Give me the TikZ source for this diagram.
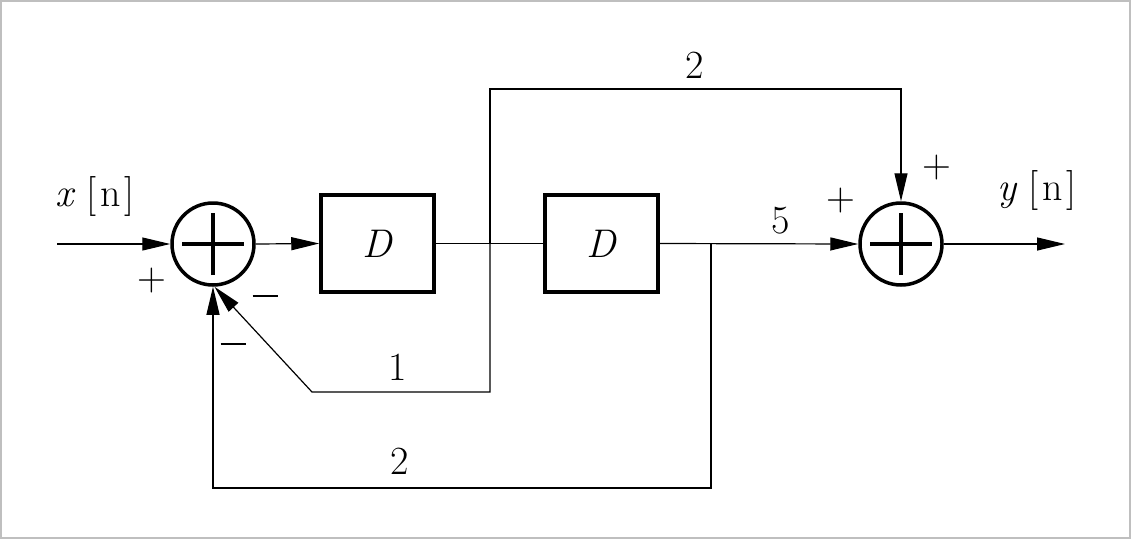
\documentclass[tikz,border=0pt]{standalone}
\usepackage{fontspec}
\usetikzlibrary{arrows.meta}
\newcommand{\mns}{\rule{25pt}{1.6pt}}
\newcommand{\sig}[1]{\textit{#1}\hspace{11pt}[\hspace{4pt}n\hspace{4pt}]}
\begin{document}
\begin{tikzpicture}[x=1pt,y=-1pt,
  every node/.style={font=\fontsize{40}{48}\selectfont},
  sumnode/.style={circle,draw,line width=3.5pt,minimum size=82pt,inner sep=0pt},
  delaybox/.style={draw,line width=3.5pt,minimum width=113pt,minimum height=97pt,inner sep=0pt},
  wire/.style={line width=1.2pt},
  arr/.style={wire,-{Triangle[length=28pt,width=13pt]}},
  lbl/.style={inner sep=0pt}]
\useasboundingbox (0,0) rectangle (1131,539);
\draw[color=black!25,line width=2pt] (1,1) rectangle (1130,538);
% nodes
\node[sumnode] (s1) at (213,244) {};
\node[sumnode] (s2) at (901,244) {};
\node[delaybox] (d1) at (377.5,243.5) {\textit{D}};
\node[delaybox] (d2) at (601.5,243.5) {\textit{D}};
\foreach \s in {s1,s2}{
  \draw[line width=3.5pt] ([xshift=-31pt]\s.center) -- ([xshift=31pt]\s.center);
  \draw[line width=3.5pt] ([yshift=-31pt]\s.center) -- ([yshift=31pt]\s.center);
}
% coordinates
\coordinate (in) at (57,244);
\coordinate (out) at (1065,244);
\coordinate (b1) at (490,244);
\coordinate (b1t) at (490,89);
\coordinate (b2t) at (901,89);
\coordinate (b1b) at (490,392);
\coordinate (k1) at (312,392);
\coordinate (b2) at (711,244);
\coordinate (b2b) at (711,488);
\coordinate (k2) at (213,488);
% connectors
\draw[arr] (in) -- (s1.west);
\draw[arr] (s1.east) -- (d1.west);
\draw[wire] (d1.east) -- (d2.west);
\draw[arr] (d2.east) -- (s2.west);
\draw[arr] (s2.east) -- (out);
\draw[arr] (b1) -- (b1t) -- (b2t) -- (s2.north);
\draw[arr] (b1) -- (b1b) -- (k1) -- (s1.-88);
\draw[arr] (b2) -- (b2b) -- (k2) -- (s1.south);
% labels
\node[lbl] (lx) at (95,196) {\sig{x}};
\node[lbl] (ly) at (1037,190) {\sig{y}};
\node[lbl] (p1) at (152,281) {+};
\node[lbl] (m1) at (265,296) {\mns};
\node[lbl] (m2) at (233,344) {\mns};
\node[lbl] (p2) at (841,201) {+};
\node[lbl] (p3) at (937,168) {+};
\node[lbl] (g5) at (781,221) {5};
\node[lbl] (g2t) at (695,65) {2};
\node[lbl] (g1) at (398,367) {1};
\node[lbl] (g2b) at (400,461) {2};
\end{tikzpicture}
\end{document}
